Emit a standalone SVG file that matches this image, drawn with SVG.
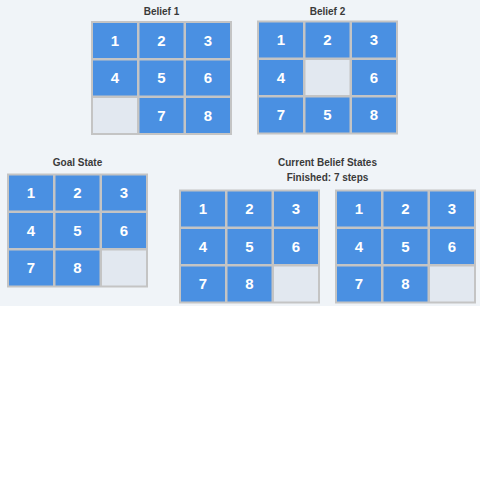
<svg xmlns="http://www.w3.org/2000/svg" width="480" height="480" viewBox="0 0 480 480">
<defs>
<style>
.bg{fill:#f0f4f8}
.frame{fill:#c4c4c4}
.t{fill:#4a90e2}
.e{fill:#e2e8f0}
.n{font-family:"Liberation Sans",Arial,sans-serif;font-size:15px;font-weight:bold;fill:#ffffff;text-anchor:middle}
.h{font-family:"Liberation Sans",Arial,sans-serif;font-size:10px;font-weight:bold;fill:#3a3a3a;text-anchor:middle}
</style>
<g id="tile">
</g>
</defs>
<rect x="0" y="0" width="480" height="480" fill="#ffffff"/>
<rect class="bg" x="0" y="0" width="480" height="306"/>

<g id="belief1">
<text class="h" x="161.5" y="14.5">Belief 1</text>
<g transform="translate(91,21)">
<rect class="frame" width="141" height="114"/>
<rect class="t" x="2" y="2" width="44" height="35"/><text class="n" x="24" y="24.5">1</text>
<rect class="t" x="48.5" y="2" width="44" height="35"/><text class="n" x="70.5" y="24.5">2</text>
<rect class="t" x="95" y="2" width="44" height="35"/><text class="n" x="117" y="24.5">3</text>
<rect class="t" x="2" y="39.5" width="44" height="35"/><text class="n" x="24" y="62">4</text>
<rect class="t" x="48.5" y="39.5" width="44" height="35"/><text class="n" x="70.5" y="62">5</text>
<rect class="t" x="95" y="39.5" width="44" height="35"/><text class="n" x="117" y="62">6</text>
<rect class="e" x="2" y="77" width="44" height="35"/>
<rect class="t" x="48.5" y="77" width="44" height="35"/><text class="n" x="70.5" y="99.5">7</text>
<rect class="t" x="95" y="77" width="44" height="35"/><text class="n" x="117" y="99.5">8</text>
</g>
</g>

<g id="belief2">
<text class="h" x="327.5" y="14.5">Belief 2</text>
<g transform="translate(257,20.5)">
<rect class="frame" width="141" height="114"/>
<rect class="t" x="2" y="2" width="44" height="35"/><text class="n" x="24" y="24.5">1</text>
<rect class="t" x="48.5" y="2" width="44" height="35"/><text class="n" x="70.5" y="24.5">2</text>
<rect class="t" x="95" y="2" width="44" height="35"/><text class="n" x="117" y="24.5">3</text>
<rect class="t" x="2" y="39.5" width="44" height="35"/><text class="n" x="24" y="62">4</text>
<rect class="e" x="48.5" y="39.5" width="44" height="35"/>
<rect class="t" x="95" y="39.5" width="44" height="35"/><text class="n" x="117" y="62">6</text>
<rect class="t" x="2" y="77" width="44" height="35"/><text class="n" x="24" y="99.5">7</text>
<rect class="t" x="48.5" y="77" width="44" height="35"/><text class="n" x="70.5" y="99.5">5</text>
<rect class="t" x="95" y="77" width="44" height="35"/><text class="n" x="117" y="99.5">8</text>
</g>
</g>

<g id="goal">
<text class="h" x="77.5" y="165.5">Goal State</text>
<g transform="translate(7,173.5)">
<rect class="frame" width="141" height="114"/>
<rect class="t" x="2" y="2" width="44" height="35"/><text class="n" x="24" y="24.5">1</text>
<rect class="t" x="48.5" y="2" width="44" height="35"/><text class="n" x="70.5" y="24.5">2</text>
<rect class="t" x="95" y="2" width="44" height="35"/><text class="n" x="117" y="24.5">3</text>
<rect class="t" x="2" y="39.5" width="44" height="35"/><text class="n" x="24" y="62">4</text>
<rect class="t" x="48.5" y="39.5" width="44" height="35"/><text class="n" x="70.5" y="62">5</text>
<rect class="t" x="95" y="39.5" width="44" height="35"/><text class="n" x="117" y="62">6</text>
<rect class="t" x="2" y="77" width="44" height="35"/><text class="n" x="24" y="99.5">7</text>
<rect class="t" x="48.5" y="77" width="44" height="35"/><text class="n" x="70.5" y="99.5">8</text>
<rect class="e" x="95" y="77" width="44" height="35"/>
</g>
</g>

<g id="current">
<text class="h" x="327.5" y="165.5">Current Belief States</text>
<text class="h" x="327.5" y="181">Finished: 7 steps</text>
</g>

<g id="current1">
<g transform="translate(179,189.5)">
<rect class="frame" width="141" height="114"/>
<rect class="t" x="2" y="2" width="44" height="35"/><text class="n" x="24" y="24.5">1</text>
<rect class="t" x="48.5" y="2" width="44" height="35"/><text class="n" x="70.5" y="24.5">2</text>
<rect class="t" x="95" y="2" width="44" height="35"/><text class="n" x="117" y="24.5">3</text>
<rect class="t" x="2" y="39.5" width="44" height="35"/><text class="n" x="24" y="62">4</text>
<rect class="t" x="48.5" y="39.5" width="44" height="35"/><text class="n" x="70.5" y="62">5</text>
<rect class="t" x="95" y="39.5" width="44" height="35"/><text class="n" x="117" y="62">6</text>
<rect class="t" x="2" y="77" width="44" height="35"/><text class="n" x="24" y="99.5">7</text>
<rect class="t" x="48.5" y="77" width="44" height="35"/><text class="n" x="70.5" y="99.5">8</text>
<rect class="e" x="95" y="77" width="44" height="35"/>
</g>
</g>

<g id="current2">
<g transform="translate(335,189.5)">
<rect class="frame" width="141" height="114"/>
<rect class="t" x="2" y="2" width="44" height="35"/><text class="n" x="24" y="24.5">1</text>
<rect class="t" x="48.5" y="2" width="44" height="35"/><text class="n" x="70.5" y="24.5">2</text>
<rect class="t" x="95" y="2" width="44" height="35"/><text class="n" x="117" y="24.5">3</text>
<rect class="t" x="2" y="39.5" width="44" height="35"/><text class="n" x="24" y="62">4</text>
<rect class="t" x="48.5" y="39.5" width="44" height="35"/><text class="n" x="70.5" y="62">5</text>
<rect class="t" x="95" y="39.5" width="44" height="35"/><text class="n" x="117" y="62">6</text>
<rect class="t" x="2" y="77" width="44" height="35"/><text class="n" x="24" y="99.5">7</text>
<rect class="t" x="48.5" y="77" width="44" height="35"/><text class="n" x="70.5" y="99.5">8</text>
<rect class="e" x="95" y="77" width="44" height="35"/>
</g>
</g>

<g id="connectors"></g>
</svg>
